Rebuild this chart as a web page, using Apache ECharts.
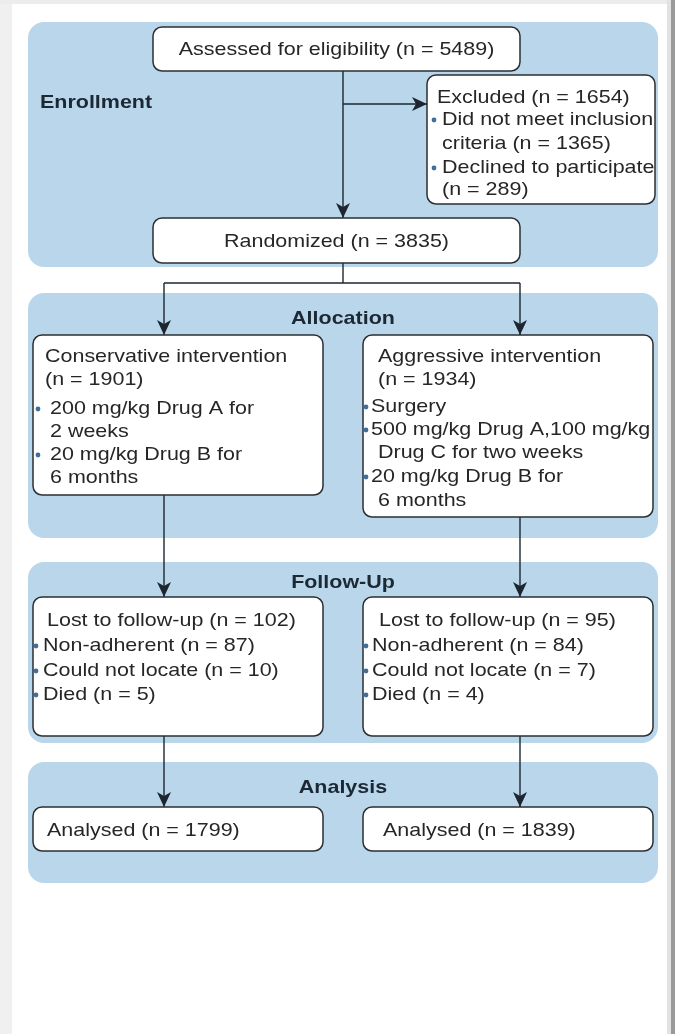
<!DOCTYPE html>
<html>
<head>
<meta charset="utf-8">
<script src="https://cdn.jsdelivr.net/npm/echarts@6/dist/echarts.min.js"></script>
<style>
  html, body { margin: 0; padding: 0; background: #ffffff; }
  #chart { width: 675px; height: 1034px; }
</style>
</head>
<body>
<div id="chart"></div>
<script>
// ---------- data ----------
const stageLabels = ["Enrollment", "Allocation", "Follow-Up", "Analysis"];
const screeningCounts = [5489, 1654, 3835];      // assessed, excluded, randomized
const exclusionCounts = [1365, 289];             // not meeting criteria, declined
const armLabels = ["Conservative intervention", "Aggressive intervention"];
const allocatedCounts = [1901, 1934];
const lostCounts = [102, 95];
const nonAdherentCounts = [87, 84];
const notLocatedCounts = [10, 7];
const diedCounts = [5, 4];
const analysedCounts = [1799, 1839];

// ---------- text content of each box ----------
const assessedLines = [`Assessed for eligibility (n = ${screeningCounts[0]})`];
const excludedLines = [
  `Excluded (n = ${screeningCounts[1]})`,
  "•Did not meet inclusion",
  ` criteria (n = ${exclusionCounts[0]})`,
  "•Declined to participate",
  ` (n = ${exclusionCounts[1]})`
];
const randomizedLines = [`Randomized (n = ${screeningCounts[2]})`];
const conservativeLines = [
  armLabels[0], `(n = ${allocatedCounts[0]})`,
  "•200 mg/kg Drug A for", " 2 weeks",
  "•20 mg/kg Drug B for", " 6 months"
];
const aggressiveLines = [
  armLabels[1], `(n = ${allocatedCounts[1]})`,
  "•Surgery",
  "•500 mg/kg Drug A,100 mg/kg", " Drug C for two weeks",
  "•20 mg/kg Drug B for", " 6 months"
];
function lostLines(i) {
  return [
    `Lost to follow-up (n = ${lostCounts[i]})`,
    `•Non-adherent (n = ${nonAdherentCounts[i]})`,
    `•Could not locate (n = ${notLocatedCounts[i]})`,
    `•Died (n = ${diedCounts[i]})`
  ];
}

// ---------- layout (page pixels mapped through hidden axes) ----------
const panels = [[28, 22, 658, 267], [28, 293, 658, 538], [28, 562, 658, 743], [28, 762, 658, 883]];
const stageLabelPos = [[40, 103, 'left'], [343, 319, 'center'], [343, 583, 'center'], [343, 788, 'center']];

// ind: [title indent, bullet dot, bullet text, continuation]; ys: line centres from box top
const boxes = [
  { r: [153, 27, 520, 71], lines: assessedLines, center: true },
  { r: [427, 75, 655, 204], lines: excludedLines, ys: [22, 44, 68, 92, 114], ind: [10, 7, 15, 15] },
  { r: [153, 218, 520, 263], lines: randomizedLines, center: true },
  { r: [33, 335, 323, 495], lines: conservativeLines, ys: [21, 44, 73, 96, 119, 142], ind: [12, 5, 17, 17] },
  { r: [363, 335, 653, 517], lines: aggressiveLines, ys: [21, 44, 71, 94, 117, 141, 165], ind: [15, 3, 8, 15] },
  { r: [33, 597, 323, 736], lines: lostLines(0), ys: [23, 48, 73, 97], ind: [14, 3, 10, 14] },
  { r: [363, 597, 653, 736], lines: lostLines(1), ys: [23, 48, 73, 97], ind: [16, 3, 9, 16] },
  { r: [33, 807, 323, 851], lines: [`Analysed (n = ${analysedCounts[0]})`], ys: [23], ind: [14, 3, 10, 14] },
  { r: [363, 807, 653, 851], lines: [`Analysed (n = ${analysedCounts[1]})`], ys: [23], ind: [20, 3, 10, 20] }
];

// connectors: [x0, y0, x1, y1, arrow]
const connectors = [
  [343, 71, 343, 218, 1],
  [343, 104, 427, 104, 1],
  [343, 263, 343, 283, 0],
  [164, 283, 520, 283, 0],
  [164, 283, 164, 335, 1],
  [520, 283, 520, 335, 1],
  [164, 495, 164, 597, 1],
  [520, 517, 520, 597, 1],
  [164, 736, 164, 807, 1],
  [520, 736, 520, 807, 1]
];

// ---------- styles ----------
const PANEL = '#b9d6eb';
const INK = '#1d2630';
const TEXT = '#262626';
const BULLET = '#3f6d9c';
const FONT = '19px "Liberation Sans", Arial, sans-serif';
const BOLD = 'bold 19px "Liberation Sans", Arial, sans-serif';
const SX = 1.13;

function txt(x, y, s, font, fill, align) {
  return {
    type: 'text', x: x, y: y + 1, scaleX: SX, scaleY: 1,
    style: { text: s, x: 0, y: 0, font: font, fill: fill,
      align: align, textAlign: align, verticalAlign: 'middle', textVerticalAlign: 'middle' }
  };
}

const chart = echarts.init(document.getElementById('chart'), null, { renderer: 'canvas' });

chart.setOption({
  backgroundColor: '#ffffff',
  animation: false,
  grid: { left: 0, right: 0, top: 0, bottom: 0 },
  xAxis: { type: 'value', min: 0, max: 675, show: false },
  yAxis: { type: 'value', min: 0, max: 1034, inverse: true, show: false },
  graphic: [
    { type: 'rect', left: 0, top: 0, shape: { width: 12, height: 1034 }, style: { fill: '#f0f0f0' }, z: -10 },
    { type: 'rect', left: 0, top: 0, shape: { width: 675, height: 4 }, style: { fill: '#ececec' }, z: -10 },
    { type: 'rect', left: 667, top: 0, shape: { width: 4, height: 1034 }, style: { fill: '#e2e2e2' }, z: -10 },
    { type: 'rect', left: 671, top: 0, shape: { width: 4, height: 1034 }, style: { fill: '#9a9a9a' }, z: -10 }
  ],
  series: [
    // stage panels
    {
      type: 'custom', silent: true, z: 1,
      data: panels,
      renderItem: function (params, api) {
        const p0 = api.coord([api.value(0), api.value(1)]);
        const p1 = api.coord([api.value(2), api.value(3)]);
        const lp = stageLabelPos[params.dataIndex];
        const lc = api.coord([lp[0], lp[1]]);
        return {
          type: 'group',
          children: [
            { type: 'rect', shape: { x: p0[0], y: p0[1], width: p1[0] - p0[0], height: p1[1] - p0[1], r: 16 },
              style: { fill: PANEL } },
            txt(lc[0], lc[1] - 1, stageLabels[params.dataIndex], BOLD, '#1c2935', lp[2])
          ]
        };
      }
    },
    // connectors
    {
      type: 'custom', silent: true, z: 2,
      data: connectors,
      renderItem: function (params, api) {
        const a = api.coord([api.value(0), api.value(1)]);
        const b = api.coord([api.value(2), api.value(3)]);
        const children = [{ type: 'line', shape: { x1: a[0], y1: a[1], x2: b[0], y2: b[1] },
          style: { stroke: INK, lineWidth: 1.4 } }];
        if (api.value(4)) {
          const dx = b[0] - a[0], dy = b[1] - a[1];
          const len = Math.sqrt(dx * dx + dy * dy);
          const ux = dx / len, uy = dy / len, px = -uy, py = ux;
          const L = 15, HW = 7, N = 4;
          const bx = b[0] - ux * L, by = b[1] - uy * L;
          children.push({ type: 'polygon', shape: { points: [
            [b[0], b[1]], [bx + px * HW, by + py * HW],
            [b[0] - ux * (L - N), b[1] - uy * (L - N)], [bx - px * HW, by - py * HW]] },
            style: { fill: INK } });
        }
        return { type: 'group', children: children };
      }
    },
    // boxes
    {
      type: 'custom', silent: true, z: 3,
      data: boxes.map(b => b.r),
      renderItem: function (params, api) {
        const bx = boxes[params.dataIndex];
        const p0 = api.coord([api.value(0), api.value(1)]);
        const p1 = api.coord([api.value(2), api.value(3)]);
        const children = [{ type: 'rect',
          shape: { x: p0[0], y: p0[1], width: p1[0] - p0[0], height: p1[1] - p0[1], r: 9 },
          style: { fill: '#ffffff', stroke: '#2b2f33', lineWidth: 1.5 } }];
        if (bx.center) {
          children.push(txt((p0[0] + p1[0]) / 2, (p0[1] + p1[1]) / 2, bx.lines[0], FONT, TEXT, 'center'));
        } else {
          bx.lines.forEach((s, i) => {
            const y = p0[1] + bx.ys[i];
            if (s.charAt(0) === '•') {
              children.push({ type: 'circle', shape: { cx: p0[0] + bx.ind[1], cy: y + 1, r: 2.4 },
                style: { fill: BULLET } });
              children.push(txt(p0[0] + bx.ind[2], y, s.slice(1), FONT, TEXT, 'left'));
            } else if (s.charAt(0) === ' ') {
              children.push(txt(p0[0] + bx.ind[3], y, s.slice(1), FONT, TEXT, 'left'));
            } else {
              children.push(txt(p0[0] + bx.ind[0], y, s, FONT, TEXT, 'left'));
            }
          });
        }
        return { type: 'group', children: children };
      }
    }
  ]
});
</script>
</body>
</html>
